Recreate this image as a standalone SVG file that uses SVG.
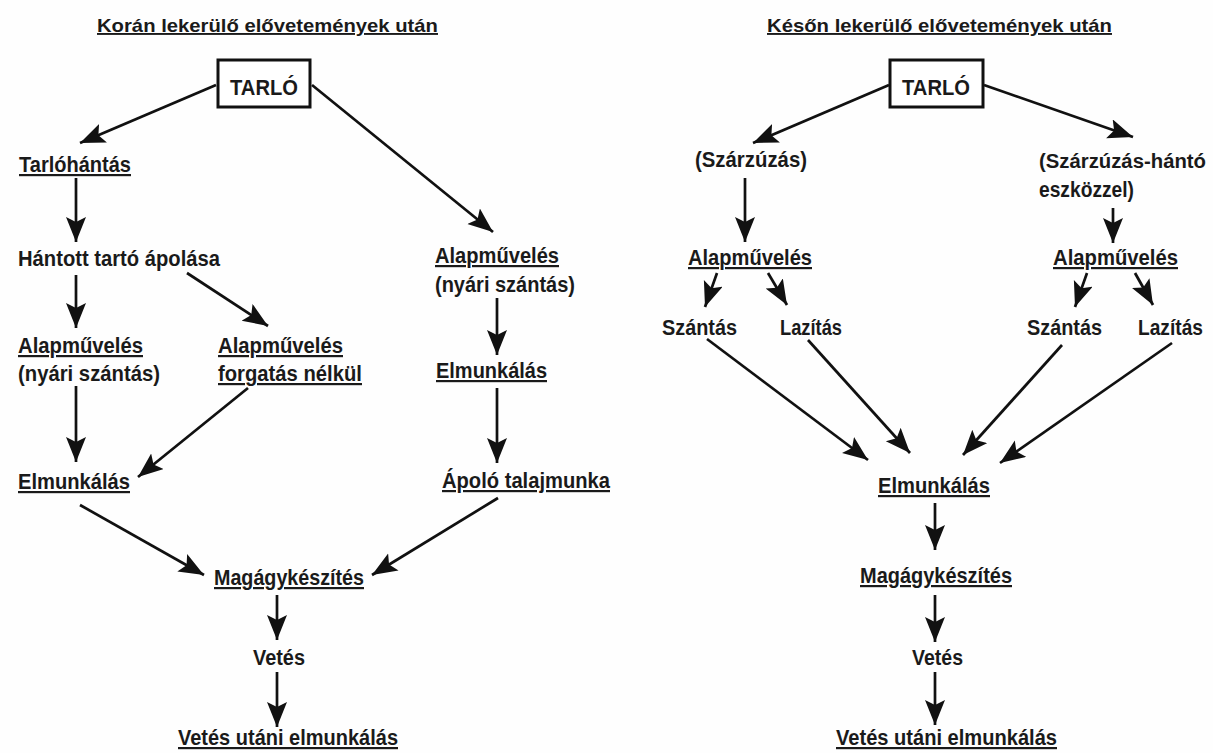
<svg xmlns="http://www.w3.org/2000/svg" width="1213" height="753" viewBox="0 0 1213 753">
<defs>
<marker id="ah" markerUnits="userSpaceOnUse" markerWidth="26" markerHeight="21" refX="25" refY="10" orient="auto">
<path d="M0,0 L25,10 L0,20 L5,10 z" fill="#111"/>
</marker>
<style>
text{font-family:"Liberation Sans",Arial,sans-serif;font-weight:bold;font-size:22px;fill:#1a1a1a}
.u{text-decoration:underline}
.t{font-size:19px}
.s{font-size:19.5px}
.c line{stroke:#111;stroke-width:2.7;marker-end:url(#ah)}
.box{fill:#fff;stroke:#111;stroke-width:3}
</style>
</defs>
<rect width="1213" height="753" fill="#fefefe"/>
<g id="title-left"><text x="97" y="32" class="u t" textLength="341" lengthAdjust="spacingAndGlyphs">Korán lekerülő elővetemények után</text></g>
<g id="title-right"><text x="767" y="32" class="u t" textLength="345" lengthAdjust="spacingAndGlyphs">Későn lekerülő elővetemények után</text></g>

<g id="tarlo-left"><rect class="box" x="218" y="60" width="92" height="47"/><text x="230" y="95" textLength="68" lengthAdjust="spacingAndGlyphs">TARLÓ</text></g>
<g id="tarlohantas"><text x="19" y="172" class="u" textLength="112" lengthAdjust="spacingAndGlyphs">Tarlóhántás</text></g>
<g id="hantott"><text x="18" y="266" textLength="202" lengthAdjust="spacingAndGlyphs">Hántott tartó ápolása</text></g>
<g id="alap-l1"><text x="18" y="353" class="u" textLength="125" lengthAdjust="spacingAndGlyphs">Alapművelés</text><text x="18" y="381" textLength="142" lengthAdjust="spacingAndGlyphs">(nyári szántás)</text></g>
<g id="alap-l2"><text x="218" y="353" class="u" textLength="125" lengthAdjust="spacingAndGlyphs">Alapművelés</text><text x="218" y="381" class="u" textLength="144" lengthAdjust="spacingAndGlyphs">forgatás nélkül</text></g>
<g id="elm-l"><text x="18" y="489" class="u" textLength="112" lengthAdjust="spacingAndGlyphs">Elmunkálás</text></g>
<g id="alap-l3"><text x="435" y="263" class="u" textLength="124" lengthAdjust="spacingAndGlyphs">Alapművelés</text><text x="435" y="292" textLength="140" lengthAdjust="spacingAndGlyphs">(nyári szántás)</text></g>
<g id="elm-l2"><text x="436" y="378" class="u" textLength="111" lengthAdjust="spacingAndGlyphs">Elmunkálás</text></g>
<g id="apolo"><text x="442" y="488" class="u" textLength="168" lengthAdjust="spacingAndGlyphs">Ápoló talajmunka</text></g>
<g id="magagy-l"><text x="214" y="585" class="u" textLength="150" lengthAdjust="spacingAndGlyphs">Magágykészítés</text></g>
<g id="vetes-l"><text x="253" y="665" textLength="52" lengthAdjust="spacingAndGlyphs">Vetés</text></g>
<g id="vetesutani-l"><text x="178" y="745" class="u" textLength="220" lengthAdjust="spacingAndGlyphs">Vetés utáni elmunkálás</text></g>

<g id="tarlo-right"><rect class="box" x="890" y="60" width="93" height="47"/><text x="902" y="95" textLength="68" lengthAdjust="spacingAndGlyphs">TARLÓ</text></g>
<g id="szarzuzas"><text x="695" y="167" textLength="112" lengthAdjust="spacingAndGlyphs">(Szárzúzás)</text></g>
<g id="szarzuzas-hanto"><text x="1039" y="168" class="s" textLength="167" lengthAdjust="spacingAndGlyphs">(Szárzúzás-hántó</text><text x="1039" y="197" textLength="95" lengthAdjust="spacingAndGlyphs">eszközzel)</text></g>
<g id="alap-r1"><text x="688" y="265" class="u" textLength="124" lengthAdjust="spacingAndGlyphs">Alapművelés</text></g>
<g id="alap-r2"><text x="1053" y="265" class="u" textLength="125" lengthAdjust="spacingAndGlyphs">Alapművelés</text></g>
<g id="szantas-r1"><text x="662" y="335" textLength="75" lengthAdjust="spacingAndGlyphs">Szántás</text></g>
<g id="lazitas-r1"><text x="780" y="335" textLength="62" lengthAdjust="spacingAndGlyphs">Lazítás</text></g>
<g id="szantas-r2"><text x="1027" y="335" textLength="75" lengthAdjust="spacingAndGlyphs">Szántás</text></g>
<g id="lazitas-r2"><text x="1138" y="335" textLength="65" lengthAdjust="spacingAndGlyphs">Lazítás</text></g>
<g id="elm-r"><text x="878" y="493" class="u" textLength="112" lengthAdjust="spacingAndGlyphs">Elmunkálás</text></g>
<g id="magagy-r"><text x="860" y="583" class="u" textLength="152" lengthAdjust="spacingAndGlyphs">Magágykészítés</text></g>
<g id="vetes-r"><text x="912" y="665" textLength="51" lengthAdjust="spacingAndGlyphs">Vetés</text></g>
<g id="vetesutani-r"><text x="836" y="745" class="u" textLength="221" lengthAdjust="spacingAndGlyphs">Vetés utáni elmunkálás</text></g>

<g id="connectors" class="c">
<line x1="216" y1="85" x2="80" y2="143"/>
<line x1="312" y1="85" x2="493" y2="232"/>
<line x1="76" y1="178" x2="76" y2="242"/>
<line x1="76" y1="275" x2="76" y2="328"/>
<line x1="187" y1="273" x2="268" y2="326"/>
<line x1="76" y1="386" x2="76" y2="462"/>
<line x1="248" y1="388" x2="138" y2="477"/>
<line x1="80" y1="505" x2="204" y2="575"/>
<line x1="497" y1="298" x2="497" y2="355"/>
<line x1="497" y1="388" x2="497" y2="463"/>
<line x1="498" y1="498" x2="372" y2="575"/>
<line x1="277" y1="595" x2="277" y2="640"/>
<line x1="277" y1="672" x2="277" y2="727"/>

<line x1="889" y1="85" x2="753" y2="143"/>
<line x1="984" y1="85" x2="1133" y2="137"/>
<line x1="745" y1="178" x2="745" y2="242"/>
<line x1="1113" y1="208" x2="1113" y2="243"/>
<line x1="717" y1="273" x2="705" y2="307"/>
<line x1="768" y1="273" x2="787" y2="305"/>
<line x1="1087" y1="273" x2="1075" y2="307"/>
<line x1="1135" y1="273" x2="1153" y2="305"/>
<line x1="707" y1="339" x2="868" y2="460"/>
<line x1="808" y1="340" x2="910" y2="453"/>
<line x1="1062" y1="345" x2="963" y2="455"/>
<line x1="1172" y1="343" x2="1000" y2="463"/>
<line x1="935" y1="503" x2="935" y2="550"/>
<line x1="935" y1="595" x2="935" y2="642"/>
<line x1="935" y1="672" x2="935" y2="725"/>
</g>
</svg>
